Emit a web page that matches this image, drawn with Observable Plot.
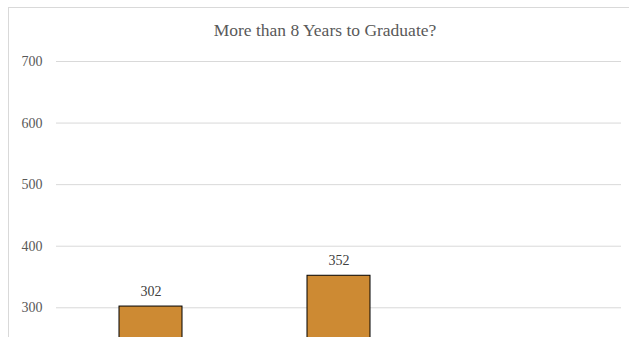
<!DOCTYPE html>
<html>
<head>
<meta charset="utf-8">
<script src="https://cdn.jsdelivr.net/npm/d3@7"></script>
<script src="https://cdn.jsdelivr.net/npm/@observablehq/plot@0.6"></script>
<style>
  html, body { margin: 0; padding: 0; background: #fff; overflow: hidden; width: 629px; height: 337px; }
  #frame { position: absolute; left: 8px; top: 7px; width: 700px; height: 700px; border: 1px solid #d9d9d9; box-sizing: border-box; }
  #title { position: absolute; left: 0; top: 20px; width: 650px; text-align: center; font-family: "Liberation Serif", "Times New Roman", serif; font-size: 17.5px; color: #595959; }
  #chart { position: absolute; left: 0; top: 0; }
</style>
</head>
<body>
<div id="frame"></div>
<div id="chart"></div>
<div id="title">More than 8 Years to Graduate?</div>
<script>
const categories = ["Group 1", "Group 2", "Group 3"];
const barCategories = ["Group 1", "Group 2"];
const barValues = [302, 352];
const yTicks = [300, 400, 500, 600, 700];

const data = barCategories.map((c, i) => ({category: c, value: barValues[i]}));

const chart = Plot.plot({
  width: 629,
  height: 520,
  marginTop: 61,
  marginBottom: 28,
  marginLeft: 56,
  marginRight: 8,
  style: {fontFamily: "'Liberation Serif', 'Times New Roman', serif", fontSize: "14px", color: "#595959", background: "transparent"},
  x: {domain: categories, paddingInner: 0.6655, paddingOuter: 0.333, axis: null},
  y: {domain: [0, 700], ticks: yTicks},
  marks: [
    Plot.gridY(yTicks, {stroke: "#d9d9d9", strokeOpacity: 1, strokeWidth: 1}),
    Plot.axisY(yTicks, {tickSize: 0, tickPadding: 14, fill: "#595959", fontSize: 14, label: null}),
    Plot.barY(data, {x: "category", y: "value", fill: "#CD8A33", stroke: "#000", strokeWidth: 1}),
    Plot.text(data, {x: "category", y: "value", text: d => String(d.value), dy: -15, fill: "#404040", fontSize: 14})
  ]
});
document.getElementById("chart").appendChild(chart);
</script>
</body>
</html>
